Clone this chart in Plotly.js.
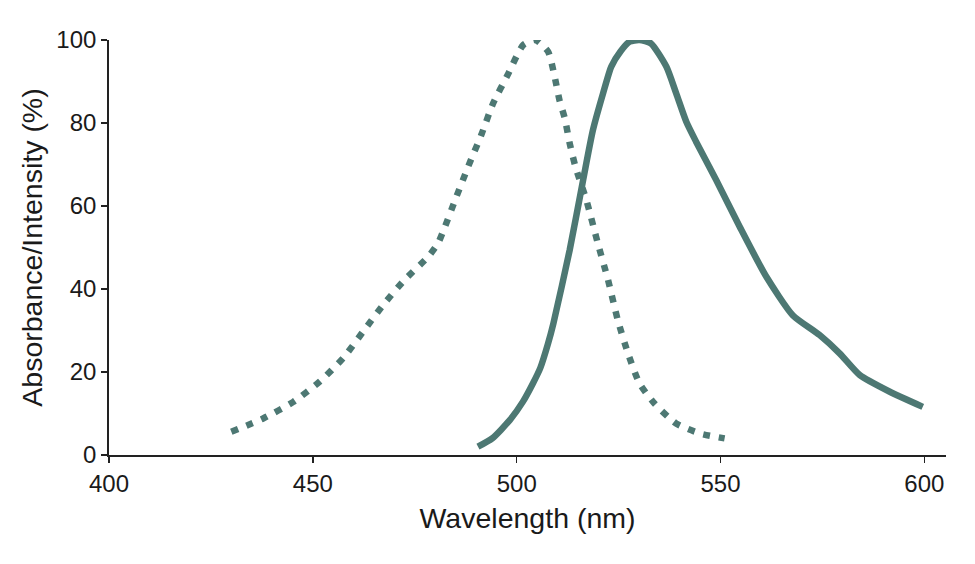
<!DOCTYPE html>
<html>
<head>
<meta charset="utf-8">
<script src="https://cdn.plot.ly/plotly-3.0.1.min.js"></script>
<style>
  html, body { margin: 0; padding: 0; background: #fff; }
  #myDiv { width: 975px; height: 564px; }
</style>
</head>
<body>
<div id="myDiv"></div>
<script>
// absorbance (dotted)
let abs_nm  = [430, 437.8, 445.2, 451.7, 457.4, 462.3, 467.2, 472.5, 478.3, 480.7, 482.4, 485.2, 488.1, 491.3, 494.2, 497.8, 501.6, 504.6, 507.7, 509.3, 510.5, 511.8, 513, 514.4, 517.1, 519.9, 522.4, 524.8, 527.3, 530.1, 533.8, 539.1, 544.9, 551];
let abs_val = [5.6, 8.8, 12.8, 17.7, 23.3, 29.7, 36.1, 42.2, 47.8, 51, 55, 62.2, 69.5, 77.1, 84.7, 91.6, 98.8, 100, 97.2, 91.2, 85.5, 81.1, 75.1, 69.5, 61.4, 51, 42.2, 32.5, 24.5, 17.3, 12.4, 7.6, 5.2, 4];

// emission (solid)
let em_nm  = [490.5, 494, 498.3, 501.5, 504, 505.8, 507.7, 509, 513, 516.3, 518.7, 521.2, 523.2, 525.5, 527.7, 530.1, 532.9, 536.7, 539.1, 541.6, 544, 548.9, 554.7, 561.2, 567.7, 574.3, 579.2, 584.1, 591.4, 599.6];
let em_val = [2, 4, 8.4, 12.8, 17.3, 21, 26.9, 31.7, 49.4, 66.3, 78.3, 87.2, 93.6, 97.3, 99.6, 100, 99.2, 93.6, 87.2, 80.3, 75.5, 66.3, 55, 43, 33.7, 28.9, 24.5, 19.3, 15.3, 11.6];

let x_ticks = [400, 450, 500, 550, 600];
let y_ticks = [0, 20, 40, 60, 80, 100];

let cor = '#4d7873';

function desenhaEspectro() {
  var absorbancia = {
    x: abs_nm,
    y: abs_val,
    type: 'scatter',
    mode: 'lines',
    line: {color: cor, width: 6.5, dash: '7px,9px', shape: 'spline', smoothing: 0.6},
    cliponaxis: false,
    hoverinfo: 'skip'
  };

  var emissao = {
    x: em_nm,
    y: em_val,
    type: 'scatter',
    mode: 'lines',
    line: {color: cor, width: 6.5, shape: 'spline', smoothing: 0.6},
    cliponaxis: false,
    hoverinfo: 'skip'
  };

  var familia = '"Liberation Sans", Arial, sans-serif';

  var layout = {
    width: 975,
    height: 564,
    margin: {l: 109, r: 29, t: 40, b: 109},
    paper_bgcolor: '#fff',
    plot_bgcolor: '#fff',
    showlegend: false,
    font: {family: familia, color: '#1a1a1a'},
    xaxis: {
      range: [400, 605.3],
      tickvals: x_ticks,
      ticks: 'outside',
      ticklen: 6,
      tickwidth: 1.5,
      tickcolor: '#222',
      showline: true,
      linecolor: '#222',
      linewidth: 1.8,
      showgrid: false,
      zeroline: false,
      tickfont: {size: 24, family: familia, color: '#1a1a1a'},
      title: {text: 'Wavelength (nm)', font: {size: 28.5, family: familia, color: '#1a1a1a'}, standoff: 12}
    },
    yaxis: {
      range: [0, 100],
      tickvals: y_ticks,
      ticks: 'outside',
      ticklen: 6,
      tickwidth: 1.5,
      tickcolor: '#222',
      showline: true,
      linecolor: '#222',
      linewidth: 1.8,
      showgrid: false,
      zeroline: false,
      tickfont: {size: 24, family: familia, color: '#1a1a1a'},
      title: {text: 'Absorbance/Intensity (%)', font: {size: 28.5, family: familia, color: '#1a1a1a'}, standoff: 5}
    }
  };

  Plotly.newPlot('myDiv', [absorbancia, emissao], layout, {staticPlot: true});
}

desenhaEspectro();
</script>
</body>
</html>
